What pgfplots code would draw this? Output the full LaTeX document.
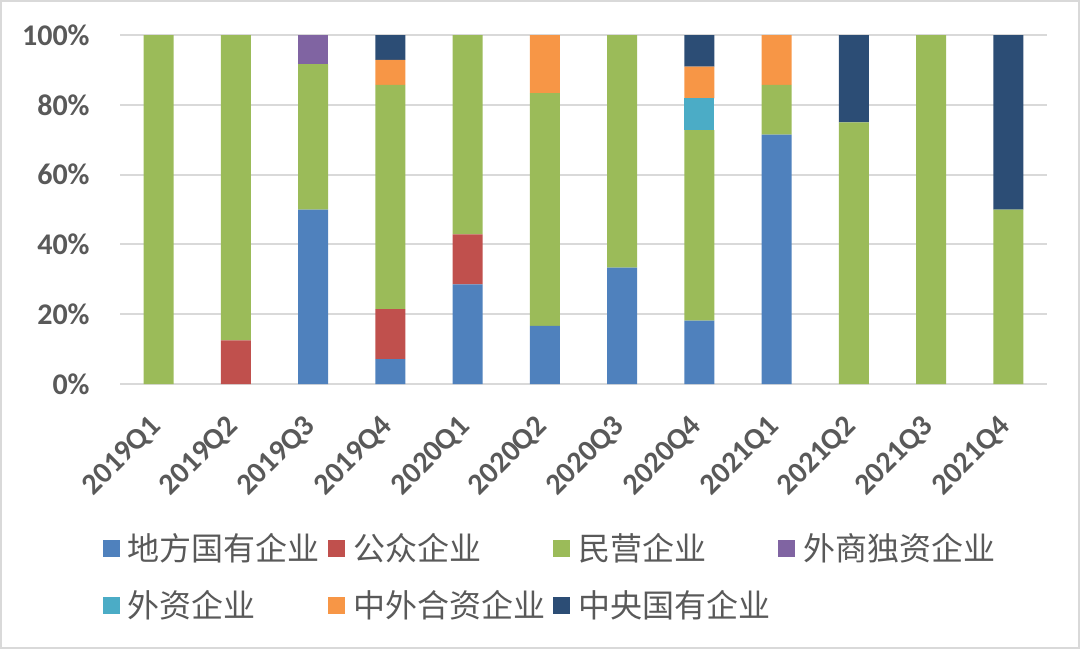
\documentclass[border=0pt]{standalone}
\usepackage{pgfplots}
\pgfplotsset{compat=1.18}
\usepackage{fontspec}
\setmainfont{Carlito}
\newfontfamily\cjk{Noto Sans CJK SC}
\definecolor{cblue}{HTML}{4F81BD}
\definecolor{cred}{HTML}{C0504D}
\definecolor{cgreen}{HTML}{9BBB59}
\definecolor{cpurple}{HTML}{8064A2}
\definecolor{ccyan}{HTML}{4BACC6}
\definecolor{corange}{HTML}{F79646}
\definecolor{cdark}{HTML}{2C4D75}
\definecolor{txtgray}{HTML}{595959}
\definecolor{gridgray}{HTML}{D9D9D9}
\pgfplotsset{sqlegend/.style={legend image code/.code={\fill[##1] (0pt,1.75pt) rectangle (8.5pt,10.25pt);}}}
\begin{document}
\begin{tikzpicture}
\path[use as bounding box] (0,0) rectangle (540pt,324.5pt);
\draw[draw=gridgray, line width=1.2pt] (0.6pt,0.6pt) rectangle (539.4pt,323.9pt);
\begin{axis}[
  at={(60pt,132.5pt)}, anchor=south west,
  scale only axis, width=463.5pt, height=174.5pt,
  xmin=-0.5, xmax=11.5, ymin=0, ymax=100,
  ybar stacked, bar width=15pt,
  axis line style={draw=none},
  major tick length=0pt,
  ymajorgrids, grid style={gridgray, line width=1pt},
  ytick={0,20,40,60,80,100},
  yticklabel={\pgfmathprintnumber{\tick}\%},
  /pgf/number format/assume math mode=true,
  xtick={0,1,2,3,4,5,6,7,8,9,10,11},
  xticklabels={2019Q1,2019Q2,2019Q3,2019Q4,2020Q1,2020Q2,2020Q3,2020Q4,2021Q1,2021Q2,2021Q3,2021Q4},
  ticklabel style={font=\fontsize{15}{15}\selectfont\bfseries, text=txtgray, inner sep=0pt},
  y tick label style={anchor=east, xshift=-15pt},
  x tick label style={xshift=-1pt, yshift=-19pt, rotate=45, anchor=east},
  every axis plot post/.append style={sqlegend},
  legend columns=4,
  legend style={at={(-0.01834,-0.38968)}, anchor=north west, draw=none, fill=none,
    inner sep=0pt, outer sep=0pt, row sep=0pt, column sep=0pt,
    font=\cjk\fontsize{16}{16}\selectfont, text=txtgray,
    nodes={inner sep=0pt, outer sep=0pt, anchor=base west, text width=100pt, align=left, text height=20pt, text depth=8.5pt},
    /tikz/every odd column/.append style={column sep=4pt}},
]
\addplot[fill=cblue, draw=none] coordinates {(0,0) (1,0) (2,50) (3,7.14) (4,28.57) (5,16.67) (6,33.33) (7,18.18) (8,71.43) (9,0) (10,0) (11,0)};
\addplot[fill=cred, draw=none] coordinates {(0,0) (1,12.5) (2,0) (3,14.29) (4,14.29) (5,0) (6,0) (7,0) (8,0) (9,0) (10,0) (11,0)};
\addplot[fill=cgreen, draw=none] coordinates {(0,100) (1,87.5) (2,41.67) (3,64.29) (4,57.14) (5,66.67) (6,66.67) (7,54.55) (8,14.29) (9,75) (10,100) (11,50)};
\addplot[fill=cpurple, draw=none] coordinates {(0,0) (1,0) (2,8.33) (3,0) (4,0) (5,0) (6,0) (7,0) (8,0) (9,0) (10,0) (11,0)};
\addplot[fill=ccyan, draw=none] coordinates {(0,0) (1,0) (2,0) (3,0) (4,0) (5,0) (6,0) (7,9.09) (8,0) (9,0) (10,0) (11,0)};
\addplot[fill=corange, draw=none] coordinates {(0,0) (1,0) (2,0) (3,7.14) (4,0) (5,16.66) (6,0) (7,9.09) (8,14.28) (9,0) (10,0) (11,0)};
\addplot[fill=cdark, draw=none] coordinates {(0,0) (1,0) (2,0) (3,7.14) (4,0) (5,0) (6,0) (7,9.09) (8,0) (9,25) (10,0) (11,50)};
\legend{地方国有企业,公众企业,民营企业,外商独资企业,外资企业,中外合资企业,中央国有企业}
\end{axis}
\end{tikzpicture}
\end{document}
